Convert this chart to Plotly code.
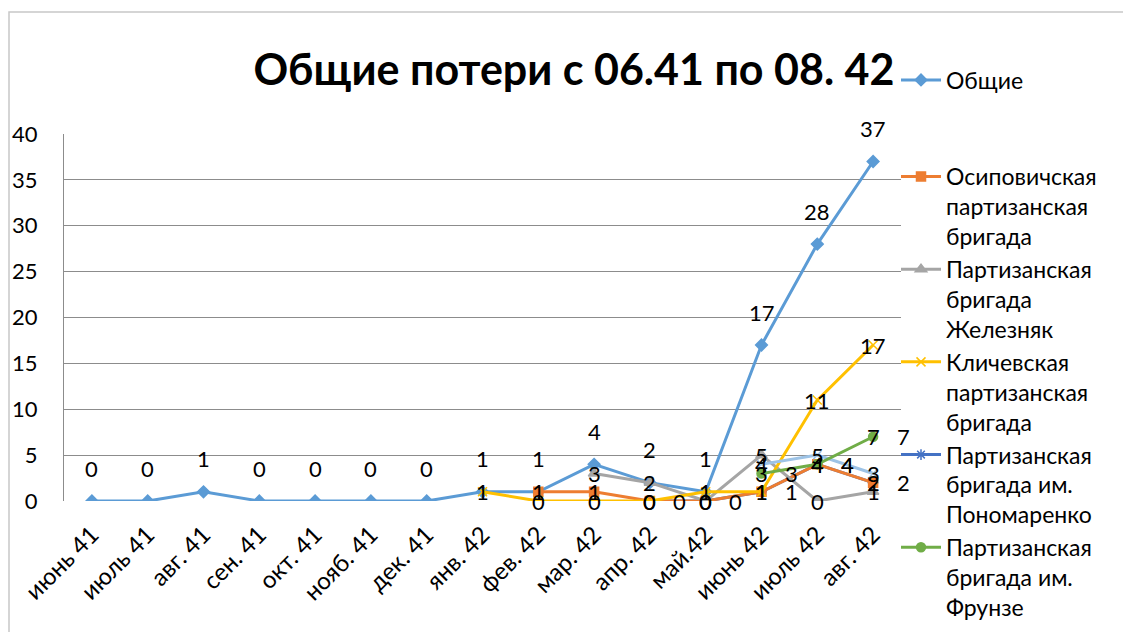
import plotly.graph_objects as go

months = ["июнь 41", "июль 41", "авг. 41", "сен. 41", "окт. 41", "нояб. 41", "дек. 41",
          "янв. 42", "фев. 42", "мар. 42", "апр. 42", "май.42", "июнь 42", "июль 42", "авг. 42"]

total = [0, 0, 1, 0, 0, 0, 0, 1, 1, 4, 2, 1, 17, 28, 37]
osipovichi = [None] * 8 + [1, 1, 0, 0, 1, 4, 2]
zheleznyak = [None] * 9 + [3, 2, 0, 5, 0, 1]
klichev = [None] * 7 + [1, 0, 0, 0, 1, 1, 11, 17]
ponomarenko = [None] * 10 + [0, 0, 1, 4, 2]
frunze = [None] * 12 + [3, 4, 7]
extra = [None] * 12 + [4, 5, 3]

FONT = "Lato"
fig = go.Figure()

# (name, values, color, marker symbol, marker size, legend, rank, label positions)
series = [
    ("Партизанская<br>бригада им.<br>Пономаренко", ponomarenko, "#4472C4", "asterisk-open", 9, "legend2", 4, ["right"]),
    ("Общие", total, "#5B9BD5", "diamond", 9, "legend", 0, ["top"]),
    ("Осиповичская<br>партизанская<br>бригада", osipovichi, "#ED7D31", "square", 9, "legend2", 1, ["center"]),
    ("Партизанская<br>бригада<br>Железняк", zheleznyak, "#A5A5A5", "triangle-up", 10, "legend2", 2, ["center"]),
    ("Кличевская<br>партизанская<br>бригада", klichev, "#FFC000", "x-thin-open", 9, "legend2", 3, ["center"]),
    ("Ряд 7", extra, "#9DC3E6", "x-thin-open", 8, None, 9, ["center"]),
    ("Партизанская<br>бригада им.<br>Фрунзе", frunze, "#70AD47", "circle", 9, "legend2", 5, ["center", "right"]),
]

annotations = []
for name, vals, color, sym, msize, leg, rank, poss in series:
    xs = [m for m, v in zip(months, vals) if v is not None]
    ys = [v for v in vals if v is not None]
    marker = dict(symbol=sym, size=msize, color=color, line=dict(color=color, width=1.5))
    kw = dict(legend=leg, showlegend=True) if leg else dict(showlegend=False)
    fig.add_trace(go.Scatter(x=xs, y=ys, mode="lines+markers", name=name,
                             line=dict(color=color, width=3), marker=marker,
                             legendrank=rank, **kw))
    for pos in poss:
        for x, y in zip(xs, ys):
            a = dict(x=x, y=y, text=str(y), showarrow=False,
                     font=dict(family=FONT, size=22, color="black"))
            if pos == "top":
                a["yshift"] = 33
            elif pos == "right":
                a["xshift"] = 30
            annotations.append(a)

# chart area border
border = [dict(type="rect", xref="paper", yref="paper",
               x0=(9 - 64) / 837, x1=(1140 - 64) / 837,
               y0=(501 - 640) / 367, y1=(501 - 12) / 367,
               line=dict(color="#C8C8C8", width=1.5), fillcolor="rgba(0,0,0,0)",
               layer="below")]

fig.update_layout(
    width=1131, height=632, autosize=False,
    margin=dict(l=56, r=238, t=126, b=139, pad=0, autoexpand=False),
    paper_bgcolor="white", plot_bgcolor="white",
    font=dict(family=FONT, size=20, color="black"),
    title=dict(text="<b>Общие потери с 06.41 по 08. 42</b>", x=0.5004, xanchor="center",
               y=1 - 62 / 632, yanchor="middle", font=dict(family=FONT, size=43, color="black")),
    xaxis=dict(type="category", categoryorder="array", categoryarray=months,
               range=[-0.5, 14.5], tickangle=-45, showgrid=False, showline=False,
               zeroline=False, ticks="", ticklabelstandoff=14, tickfont=dict(size=24),
               automargin=False),
    yaxis=dict(range=[0, 40], dtick=5, showgrid=True, gridcolor="#8C8C8C", gridwidth=1,
               showline=True, linecolor="#8C8C8C", linewidth=1, zeroline=False,
               ticks="", ticklabelstandoff=21, tickfont=dict(size=22), automargin=False),
    legend=dict(x=(896 - 64) / 837, y=(501 - 80) / 367, xanchor="left", yanchor="middle",
                font=dict(family=FONT, size=23), bgcolor="rgba(0,0,0,0)", itemwidth=40),
    legend2=dict(x=(896 - 64) / 837, y=(501 - 155) / 367, xanchor="left", yanchor="top",
                 font=dict(family=FONT, size=23), bgcolor="rgba(0,0,0,0)", valign="top",
                 itemwidth=40, traceorder="normal", maxheight=800),
    annotations=annotations,
    shapes=border,
)

fig.write_html("out.html")
